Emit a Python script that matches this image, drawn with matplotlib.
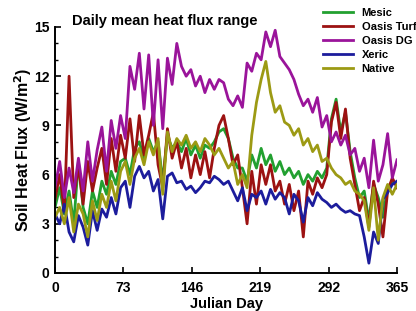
import matplotlib
matplotlib.use("Agg")
import matplotlib.pyplot as plt
import numpy as np

plt.rcParams['font.family'] = ['Liberation Sans', 'DejaVu Sans']

days = list(range(0, 361, 5)) + [365]

mesic = [4.0, 5.2, 3.6, 5.0, 3.0, 6.8, 4.0, 3.0, 5.0, 4.0, 5.6, 4.8, 6.2, 5.4, 6.8, 7.0, 6.0, 7.6, 8.0, 7.0,
         8.2, 7.4, 8.0, 5.6, 8.4, 7.6, 8.0, 7.4, 8.2, 7.2, 7.8, 7.0, 7.8, 7.6, 8.0, 8.6, 8.8, 8.2, 7.0, 6.4,
         6.4, 5.6, 7.2, 6.4, 7.6, 6.6, 7.2, 6.2, 6.8, 6.0, 6.4, 5.8, 6.2, 5.4, 6.0, 5.6, 6.2, 5.8, 6.4, 9.4,
         10.6, 8.6, 9.8, 7.4, 5.8, 4.6, 5.0, 3.2, 5.4, 4.6, 3.4, 5.2, 5.6, 5.4]
oasis_turf = [4.5, 6.0, 3.8, 12.0, 4.6, 6.5, 4.2, 6.8, 5.0, 6.4, 7.6, 5.4, 8.2, 6.2, 8.4, 7.0, 9.4, 6.8, 9.6, 7.2,
              8.4, 9.8, 6.6, 5.2, 8.8, 7.0, 8.0, 6.4, 7.6, 5.8, 7.2, 6.0, 7.4, 5.8, 7.6, 9.0, 9.6, 8.2, 6.6, 7.2,
              5.2, 3.0, 6.2, 4.2, 6.6, 5.4, 6.6, 5.0, 5.6, 4.2, 5.4, 3.8, 5.0, 2.2, 5.6, 4.8, 5.8, 5.2, 6.0, 9.2,
              10.4, 8.2, 10.0, 7.0, 5.4, 3.8, 4.6, 2.8, 5.6, 4.2, 2.2, 5.0, 5.8, 5.2]
oasis_dg = [5.2, 6.8, 4.6, 6.4, 4.9, 7.0, 5.0, 8.0, 5.6, 7.5, 8.9, 6.2, 9.3, 7.6, 9.6, 8.2, 12.6, 11.2, 13.4, 10.0,
            13.3, 9.0, 13.0, 8.8, 13.1, 11.5, 14.0, 12.6, 12.0, 12.4, 11.4, 12.0, 11.0, 11.8, 11.2, 11.8, 11.6, 10.6, 10.2, 10.8,
            10.1, 12.8, 12.3, 13.4, 13.0, 14.7, 13.8, 14.8, 13.2, 12.8, 12.4, 11.8, 10.9, 10.2, 10.6, 9.8, 10.7, 8.9, 9.6, 8.0,
            8.6, 7.8, 8.4, 7.2, 7.6, 6.2, 7.0, 5.2, 8.1, 5.6, 6.6, 8.5, 5.8, 6.9]
xeric = [3.6, 3.0, 4.2, 2.5, 1.9, 3.5, 2.8, 1.7, 3.8, 2.6, 3.9, 3.4, 4.6, 3.6, 5.2, 5.6, 4.0, 5.9, 6.5, 5.8,
         6.2, 5.0, 5.7, 3.3, 5.9, 6.1, 5.5, 5.6, 5.1, 5.3, 4.9, 5.2, 5.6, 5.5, 5.9, 5.7, 5.4, 5.6, 5.0, 4.4,
         5.2, 3.8, 4.8, 4.6, 5.0, 4.2, 5.1, 4.5, 4.9, 4.6, 3.6, 4.8, 4.4, 3.1, 4.6, 4.1, 4.9, 4.5, 4.3, 4.0,
         4.2, 3.9, 3.7, 3.8, 3.6, 3.5, 2.2, 0.6, 2.5, 1.8, 4.5, 4.9, 5.4, 5.6]
native = [3.4, 4.0, 3.0, 4.6, 2.5, 4.2, 3.6, 2.2, 4.4, 3.2, 4.8, 4.0, 5.6, 4.4, 6.2, 6.8, 5.4, 7.0, 7.6, 6.6,
          8.0, 7.2, 8.2, 4.8, 8.6, 7.4, 8.2, 7.8, 8.4, 7.6, 8.0, 7.4, 8.2, 7.8, 7.2, 7.6, 7.0, 6.4, 6.8, 5.4,
          6.0, 5.2, 8.4, 10.4, 11.8, 12.9, 11.0, 9.8, 10.2, 9.2, 9.0, 8.4, 8.8, 7.8, 8.2, 7.4, 7.8, 6.8, 7.0, 6.4,
          6.0, 5.8, 5.4, 5.6, 5.0, 4.8, 4.4, 2.6, 5.2, 2.0, 4.6, 5.4, 4.8, 5.4]

series_names = ["Mesic", "Oasis Turf", "Oasis DG", "Xeric", "Native"]
series_vals = [mesic, oasis_turf, oasis_dg, xeric, native]
colors = ["#22a030", "#9c1212", "#9a149a", "#1c1c9c", "#9c9a14"]

x_ticks = [0, 73, 146, 219, 292, 365]
y_ticks = [0, 3, 6, 9, 12, 15]

fig = plt.figure(figsize=(4.16, 3.11), dpi=100)
ax = fig.add_axes([55/416, 1-273/311, (397-55)/416, (273-27)/311])

lines = []
for name, vals, c in zip(series_names, series_vals, colors):
    ln, = ax.plot(days, vals, color=c, lw=2.0, label=name)
    lines.append(ln)

ax.set_xlim(0, 365)
ax.set_ylim(0, 15)
ax.set_xticks(x_ticks)
ax.set_yticks(y_ticks)
ax.set_yticks(np.arange(0, 16, 1), minor=True)
for s in ["top", "right"]:
    ax.spines[s].set_visible(False)
for s in ["left", "bottom"]:
    ax.spines[s].set_linewidth(1.4)
ax.tick_params(axis='both', which='major', direction='in', length=4, width=1.2,
               labelsize=10)
ax.tick_params(axis='y', which='minor', direction='in', length=2.5, width=1.0)
for lab in ax.get_xticklabels() + ax.get_yticklabels():
    lab.set_fontweight('bold')
ax.tick_params(axis='x', pad=6)
ax.tick_params(axis='y', pad=4)

ax.set_xlabel("Julian Day", fontsize=10.5, fontweight='bold', labelpad=1)
ax.set_ylabel("Soil Heat Flux (W/m$^\\mathbf{2}$)", fontsize=11.5, fontweight='bold', labelpad=0)

fig.text(72/416, 1-21/311, "Daily mean heat flux range", fontsize=10.5, fontweight='bold',
         va='center', ha='left')

fig.legend(handles=lines, loc='upper left', bbox_to_anchor=(321/416, 1-6/311),
           frameon=False, prop={'size': 8, 'weight': 'bold'},
           handlelength=2.7, handletextpad=0.75, labelspacing=0.35, borderaxespad=0,
           borderpad=0.2)

fig.savefig("out.png", dpi=100)
